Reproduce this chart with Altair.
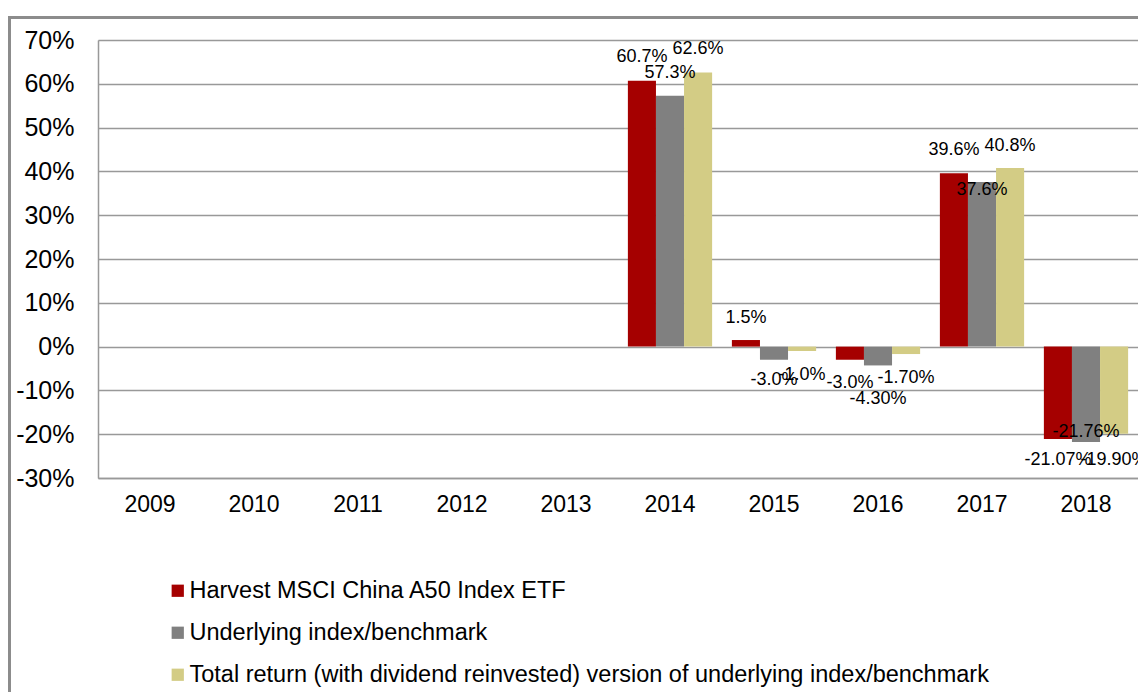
import altair as alt
import pandas as pd

years = ["2009", "2010", "2011", "2012", "2013", "2014", "2015", "2016", "2017", "2018"]
series = [
    "Harvest MSCI China A50 Index ETF",
    "Underlying index/benchmark",
    "Total return (with dividend reinvested) version of underlying index/benchmark",
]
colors = ["#A50000", "#808080", "#D3CC85"]

data_years = ["2014", "2015", "2016", "2017", "2018"]
fund = [60.7, 1.5, -3.0, 39.6, -21.07]
index = [57.3, -3.0, -4.30, 37.6, -21.76]
total = [62.6, -1.0, -1.70, 40.8, -19.90]
fund_labels = ["60.7%", "1.5%", "-3.0%", "39.6%", "-21.07%"]
index_labels = ["57.3%", "-3.0%", "-4.30%", "37.6%", "-21.76%"]
total_labels = ["62.6%", "-1.0%", "-1.70%", "40.8%", "-19.90%"]

# label placement nudges (pixels, positive = downward), as in the reference
fund_nudge = [-24, -22, 23, -23, 21]
index_nudge = [-23, 20, 34, 8, -10]
total_nudge = [-23, 24, 24, -22, 26]

PLOT_W, PLOT_H = 1040, 438
Y_MIN, Y_MAX = -30, 70
px_per_unit = PLOT_H / (Y_MAX - Y_MIN)

rows = []
for s, vals, labs, nud in [
    (series[0], fund, fund_labels, fund_nudge),
    (series[1], index, index_labels, index_nudge),
    (series[2], total, total_labels, total_nudge),
]:
    for y, v, l, n in zip(data_years, vals, labs, nud):
        rows.append({"year": y, "series": s, "value": v, "label": l,
                     "label_y": v - n / px_per_unit})
df = pd.DataFrame(rows)

FONT = "Liberation Sans"

x_enc = alt.X("year:N", scale=alt.Scale(domain=years, paddingInner=0.19, paddingOuter=0.095),
              axis=alt.Axis(title=None, labelAngle=0, labelFontSize=23, labelFont=FONT,
                            labelColor="black", ticks=False, labelPadding=15,
                            domain=True, domainColor="#999999", domainWidth=1.5))
xoff = alt.XOffset("series:N", scale=alt.Scale(domain=series, paddingInner=0, paddingOuter=0))

bars = alt.Chart(df).mark_bar().encode(
    x=x_enc,
    xOffset=xoff,
    y=alt.Y("value:Q", scale=alt.Scale(domain=[Y_MIN, Y_MAX], nice=False),
            axis=alt.Axis(title=None, values=list(range(-30, 80, 10)),
                          labelExpr="datum.value + '%'", labelFontSize=25, labelFont=FONT,
                          labelColor="black", ticks=False, labelPadding=24,
                          domain=True, domainColor="#999999", domainWidth=1.5,
                          grid=True, gridColor="#999999", gridWidth=1.5)),
    color=alt.Color("series:N", scale=alt.Scale(domain=series, range=colors),
                    legend=alt.Legend(title=None, orient="none", legendX=68, legendY=539,
                                      direction="vertical", symbolType="square",
                                      symbolSize=150, symbolStrokeWidth=0,
                                      labelFontSize=23.5, labelFont=FONT, labelColor="black",
                                      labelLimit=2000, rowPadding=17, labelOffset=0,
                                      padding=0)),
)

labels = alt.Chart(df).mark_text(fontSize=18, font=FONT, color="black", baseline="middle").encode(
    x=alt.X("year:N"),
    xOffset=alt.XOffset("series:N"),
    y=alt.Y("label_y:Q"),
    text="label:N",
)

frame = alt.Chart(pd.DataFrame({"k": [0]})).mark_rect(
    fill="transparent", stroke="#8C8C8C", strokeWidth=3
).encode(
    x=alt.value(-88.5), x2=alt.value(1300), y=alt.value(-22.5), y2=alt.value(900)
)

chart = alt.layer(frame, bars, labels).properties(
    width=PLOT_W, height=PLOT_H,
    autosize=alt.AutoSizeParams(type="none"),
    padding={"left": 90, "top": 32, "right": 0, "bottom": 214},
).configure_view(stroke=None).configure(background="white")

chart.save("out.html", embed_options={"renderer": "svg", "actions": False})
